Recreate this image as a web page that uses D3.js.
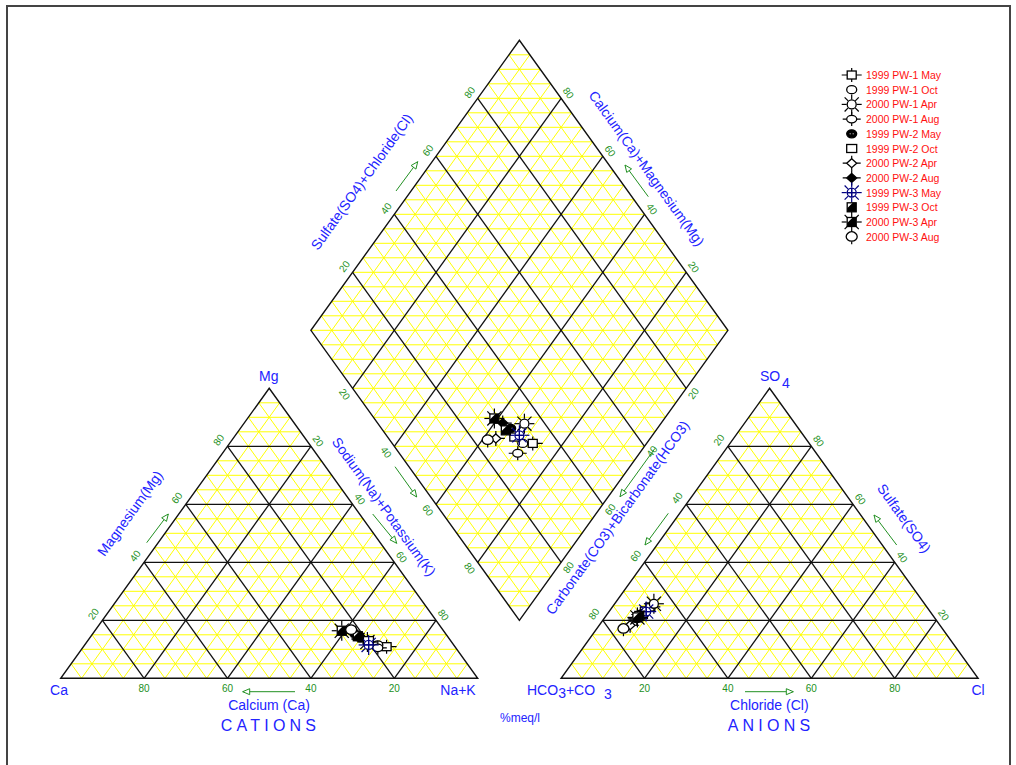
<!DOCTYPE html>
<html><head><meta charset="utf-8">
<script src="https://cdn.jsdelivr.net/npm/d3@7/dist/d3.min.js"></script>
<style>
html,body{margin:0;padding:0;background:#fff;}
svg{display:block;font-family:"Liberation Sans",Arial,sans-serif;}
</style></head>
<body>
<svg id="chart" width="1016" height="765"></svg>
<script>
// ---------------- DATA ----------------
const samples = ['1999 PW-1 May','1999 PW-1 Oct','2000 PW-1 Apr','2000 PW-1 Aug','1999 PW-2 May','1999 PW-2 Oct','2000 PW-2 Apr','2000 PW-2 Aug','1999 PW-3 May','1999 PW-3 Oct','2000 PW-3 Apr','2000 PW-3 Aug'];
const markerTypes = ['sqcross','ellipse','sun','ellcross','ellfill','square','diamcross','diamfill','navysun','halfsq','halfsqstar','circtail'];
// cations, % meq/l
const calcium         = [16.4,18.2,20.2,18.7,21.2,19.7,21.5,22.2,20.4,21.5,24.4,22.0];
const magnesium       = [10.9,11.5,12.5,10.5,14.0,13.0,15.5,15.8,11.5,14.5,16.4,16.7];
const sodiumPotassium = [72.7,70.3,67.3,70.8,64.8,67.3,63.0,62.0,68.1,64.0,59.2,61.3];
// anions, % meq/l
const bicarbonate     = [66.3,68.7,64.9,71.6,69.0,69.5,74.3,70.0,68.1,70.5,71.2,76.5];
const sulfate         = [24.6,22.5,25.7,20.5,22.5,22.0,18.3,22.0,23.0,21.5,21.0,17.1];
const chloride        = [9.1,8.8,9.4,7.9,8.5,8.5,7.4,8.0,8.9,8.0,7.8,6.4];
const tickValues = [20,40,60,80];

// ---------------- LAYOUT ----------------
const svg = d3.select('#chart');
const S = 417, Hh = 290;               // triangle base width & height (px)
const x0 = 60.7, yb = 678.3, gap = 0.2*S;
const ax0 = x0 + S + gap;              // anion triangle left vertex
const bx = x0 + S + gap/2, by = yb - 0.2*Hh; // diamond bottom vertex
const sx = d3.scaleLinear().domain([0,100]).range([0,S]);
const sy = d3.scaleLinear().domain([0,100]).range([0,Hh]);
const ang = Math.atan2(Hh, S/2)*180/Math.PI; // ~54.3
const nL = [-Math.sin(ang*Math.PI/180), -Math.cos(ang*Math.PI/180)]; // outward normal left edges

const BLUE = '#2323ff', GREEN = '#229022', RED = '#ff1010';

// ternary position in a triangle: a = right-vertex %, b = apex %
const triPos = (ox) => (a, b) => [ox + sx(a) + sx(b)/2, yb - sy(b)];
const catPos = triPos(x0), anPos = triPos(ax0);
// diamond position: u = 100 - Na+K, v = 100 - HCO3
const diaPos = (u, v) => [bx + sx(v - u)/2, by - sy(u + v)];

const gGrid = svg.append('g');
function seg(g, p, q, col, w) {
  g.append('line').attr('x1',p[0]).attr('y1',p[1]).attr('x2',q[0]).attr('y2',q[1])
   .attr('stroke',col).attr('stroke-width',w);
}
const ks = d3.range(5,100,5);
function triGrid(pos) {
  const gy = gGrid.append('g'), gb = gGrid.append('g');
  ks.forEach(k => {
    const major = k % 20 === 0;
    const g = major ? gb : gy, c = major ? '#111' : '#ffff00', w = major ? 1.3 : 1;
    seg(g, pos(0,k), pos(100-k,k), c, w);
    seg(g, pos(k,0), pos(k,100-k), c, w);
    seg(g, pos(100-k,0), pos(0,100-k), c, w);
  });
  gb.append('path').attr('d', 'M'+pos(0,0)+'L'+pos(100,0)+'L'+pos(0,100)+'Z')
    .attr('fill','none').attr('stroke','#111').attr('stroke-width',1.4);
}
triGrid(catPos); triGrid(anPos);
(function diaGrid(){
  const gy = gGrid.append('g'), gb = gGrid.append('g');
  d3.range(5,200,5).forEach(k => {
    const u1 = Math.max(0,k-100), u2 = Math.min(100,k);
    seg(gy, diaPos(u1,k-u1), diaPos(u2,k-u2), '#ffff00', 1);
  });
  ks.forEach(k => {
    const major = k % 20 === 0;
    const g = major ? gb : gy, c = major ? '#111' : '#ffff00', w = major ? 1.3 : 1;
    seg(g, diaPos(k,0), diaPos(k,100), c, w);
    seg(g, diaPos(0,k), diaPos(100,k), c, w);
  });
  gb.append('path').attr('d','M'+diaPos(0,0)+'L'+diaPos(100,0)+'L'+diaPos(100,100)+'L'+diaPos(0,100)+'Z')
    .attr('fill','none').attr('stroke','#111').attr('stroke-width',1.4);
})();

// ---------------- TICK LABELS ----------------
const gT = svg.append('g').attr('fill',GREEN).attr('font-size',10).attr('text-anchor','middle').attr('dominant-baseline','central');
function tick(p, txt, nx, ny, off, rot) {
  const x = p[0] + nx*off, y = p[1] + ny*off;
  gT.append('text').attr('transform',`translate(${x},${y}) rotate(${rot})`).text(txt);
}
const cs = Math.cos(ang*Math.PI/180), sn = Math.sin(ang*Math.PI/180);
tickValues.forEach(v => {
  // cation
  tick(catPos(100-v,0), v, 0, 1, 10, 0);
  tick(catPos(0,v), v, -sn, -cs, 11, -ang);
  tick(catPos(v,100-v), v, sn, -cs, 9, ang);
  // anion
  tick(anPos(v,0), v, 0, 1, 10, 0);
  tick(anPos(0,100-v), v, -sn, -cs, 11, -ang);
  tick(anPos(100-v,v), v, sn, -cs, 9, ang);
  // diamond
  tick(diaPos(100,v), v, -sn, -cs, 10, -ang);   // SO4+Cl
  tick(diaPos(v,100), v, sn, -cs, 9, ang);      // Ca+Mg
  tick(diaPos(100-v,0), v, -sn, cs, 10, ang);   // Na+K
  tick(diaPos(0,100-v), v, sn, cs, 9, -ang);    // HCO3
});

// ---------------- ARROWS ----------------
const gA = svg.append('g');
function arrow(x1,y1,x2,y2){
  gA.append('line').attr('x1',x1).attr('y1',y1).attr('x2',x2).attr('y2',y2).attr('stroke',GREEN).attr('stroke-width',1);
  const dx=x2-x1, dy=y2-y1, L=Math.hypot(dx,dy), ux=dx/L, uy=dy/L, hl=7, hw=3;
  const bxp=x2-ux*hl, byp=y2-uy*hl;
  gA.append('path').attr('d',`M${x2},${y2}L${bxp-uy*hw},${byp+ux*hw}L${bxp+uy*hw},${byp-ux*hw}Z`)
    .attr('fill','#fff').attr('stroke',GREEN).attr('stroke-width',1);
}
arrow(295,691.7,242.7,691.7);
arrow(146.7,542.7,168.3,514);
arrow(372.7,514,396.7,543.3);
arrow(395,466.7,416.7,497);
arrow(396,191,417.7,161.7);
arrow(648.3,196.7,625,165);
arrow(655,448.3,620,496.7);
arrow(668.3,513.3,645,545);
arrow(896.7,545,874,515);
arrow(745,691.7,793.3,691.7);

// ---------------- TITLES ----------------
const gL = svg.append('g').attr('fill',BLUE).attr('text-anchor','middle').attr('dominant-baseline','central');
function lab(x,y,txt,size,rot,extra){
  const t = gL.append('text').attr('transform',`translate(${x},${y}) rotate(${rot||0})`).attr('font-size',size).text(txt);
  if (extra) t.attr('letter-spacing',extra);
  return t;
}
lab(268.7,376,'Mg',14);
lab(59,690,'Ca',14);
lab(458,690,'Na+K',14);
lab(978,690,'Cl',14);
lab(770,376,'SO',14);
lab(786,383,'4',14);
const hc = gL.append('text').attr('x',527).attr('y',690).attr('text-anchor','start').attr('font-size',14);
hc.append('tspan').text('HCO');
hc.append('tspan').attr('dy',3).text('3');
hc.append('tspan').attr('dy',-3).text('+CO');
hc.append('tspan').attr('dx',9).attr('dy',4).text('3');
lab(130,513.3,'Magnesium(Mg)',14,-ang);
lab(384,506.7,'Sodium(Na)+Potassium(K)',14,ang);
lab(269,705,'Calcium (Ca)',14);
lab(270.5,725.7,'CATIONS',16,0,4.2);
lab(361.7,181.7,'Sulfate(SO4)+Chloride(Cl)',14,-ang);
lab(646.7,168.3,'Calcium(Ca)+Magnesium(Mg)',14,ang);
lab(617.5,517.5,'Carbonate(CO3)+Bicarbonate(HCO3)',14,-ang);
lab(904.2,518.3,'Sulfate(SO4)',14,ang);
lab(769.3,705,'Chloride (Cl)',14);
lab(771,725.7,'ANIONS',16,0,4.2);
lab(520,718,'%meq/l',12);

// ---------------- MARKERS ----------------
function rays(g, r1, r2, col){
  d3.range(8).forEach(i => {
    const a = i*Math.PI/4;
    g.append('line').attr('x1',Math.cos(a)*r1).attr('y1',Math.sin(a)*r1)
     .attr('x2',Math.cos(a)*r2).attr('y2',Math.sin(a)*r2).attr('stroke',col).attr('stroke-width',1.2);
  });
}
function cross(g, hx0, hx1, vy0, vy1, col){
  g.append('path').attr('d',`M${-hx1},0H${-hx0}M${hx0},0H${hx1}M0,${-vy1}V${-vy0}M0,${vy0}V${vy1}`)
   .attr('stroke',col||'#000').attr('stroke-width',1.2).attr('fill','none');
}
function drawMarker(parent, type, x, y){
  const g = parent.append('g').attr('transform',`translate(${x},${y})`);
  const st = s => s.attr('stroke','#000').attr('stroke-width',1.3);
  const diam = 'M0,-4.5L5,0L0,4.5L-5,0Z';
  switch(type){
    case 'sqcross': cross(g,4.5,10,4,7); st(g.append('rect').attr('x',-4.5).attr('y',-4).attr('width',9).attr('height',8).attr('fill','#fff')); break;
    case 'ellipse': st(g.append('ellipse').attr('rx',5).attr('ry',4).attr('fill','#fff')); break;
    case 'sun': rays(g,5,10,'#000'); st(g.append('circle').attr('r',4.5).attr('fill','#fff')); break;
    case 'ellcross': cross(g,5,9,3.8,7); st(g.append('ellipse').attr('rx',5).attr('ry',3.8).attr('fill','#fff')); break;
    case 'ellfill': st(g.append('ellipse').attr('rx',5).attr('ry',4).attr('fill','#000'));
      g.append('circle').attr('cx',-1.5).attr('r',0.8).attr('fill','#888'); g.append('circle').attr('cx',1.5).attr('r',0.8).attr('fill','#888'); break;
    case 'square': st(g.append('rect').attr('x',-5).attr('y',-4).attr('width',10).attr('height',8).attr('fill','#fff')); break;
    case 'diamcross': cross(g,5,9,4.5,7.5); st(g.append('path').attr('d',diam).attr('fill','#fff')); break;
    case 'diamfill': cross(g,5,9,4.5,7.5); st(g.append('path').attr('d',diam).attr('fill','#000')); break;
    case 'navysun': {
      rays(g,5,10,'#000080');
      g.append('circle').attr('r',4.5).attr('fill','#fff').attr('stroke','#000080').attr('stroke-width',1.3);
      cross(g,-4.5,4.5,-4.5,4.5,'#000080');
      g.append('path').attr('d','M-4.5,0H4.5M0,-4.5V4.5').attr('stroke','#000080').attr('stroke-width',1.2);
      break; }
    case 'halfsq':
      st(g.append('rect').attr('x',-4.5).attr('y',-4.5).attr('width',9).attr('height',9).attr('fill','#fff'));
      g.append('path').attr('d','M1,-4.5L4.5,-4.5L4.5,4.5L-4.5,4.5L-4.5,1Z').attr('fill','#000'); break;
    case 'halfsqstar':
      rays(g,5,10,'#000');
      st(g.append('rect').attr('x',-4.5).attr('y',-4.5).attr('width',9).attr('height',9).attr('fill','#fff'));
      g.append('path').attr('d','M1,-4.5L4.5,-4.5L4.5,4.5L-4.5,4.5L-4.5,1Z').attr('fill','#000'); break;
    case 'circtail':
      g.append('line').attr('y1',4.5).attr('y2',7.5).attr('stroke','#000').attr('stroke-width',1.2);
      st(g.append('path').attr('d','M0,-5C3.5,-5 5.5,-2 5.5,0C5.5,2 3.5,4.5 0,4.5C-3.5,4.5 -5.5,2 -5.5,0C-5.5,-2 -3.5,-5 0,-5Z').attr('fill','#fff')); break;
  }
}
const gP = svg.append('g');
samples.forEach((s,i) => {
  const c = catPos(sodiumPotassium[i], magnesium[i]);
  drawMarker(gP, markerTypes[i], c[0], c[1]);
  const a = anPos(chloride[i], sulfate[i]);
  drawMarker(gP, markerTypes[i], a[0], a[1]);
  const d = diaPos(100 - sodiumPotassium[i], 100 - bicarbonate[i]);
  drawMarker(gP, markerTypes[i], d[0], d[1]);
});

// ---------------- LEGEND ----------------
const gLeg = svg.append('g');
const legY = d3.scaleLinear().domain([0, samples.length-1]).range([75, 236.7]);
samples.forEach((s,i) => {
  drawMarker(gLeg, markerTypes[i], 851.7, legY(i));
  gLeg.append('text').attr('x',866).attr('y',legY(i)).attr('dominant-baseline','central')
    .attr('font-size',10.5).attr('fill',RED).text(s);
});

// ---------------- FRAME ----------------
svg.append('rect').attr('x',7).attr('y',6).attr('width',1003).attr('height',780)
  .attr('fill','none').attr('stroke','#444').attr('stroke-width',2);
</script>
</body></html>
